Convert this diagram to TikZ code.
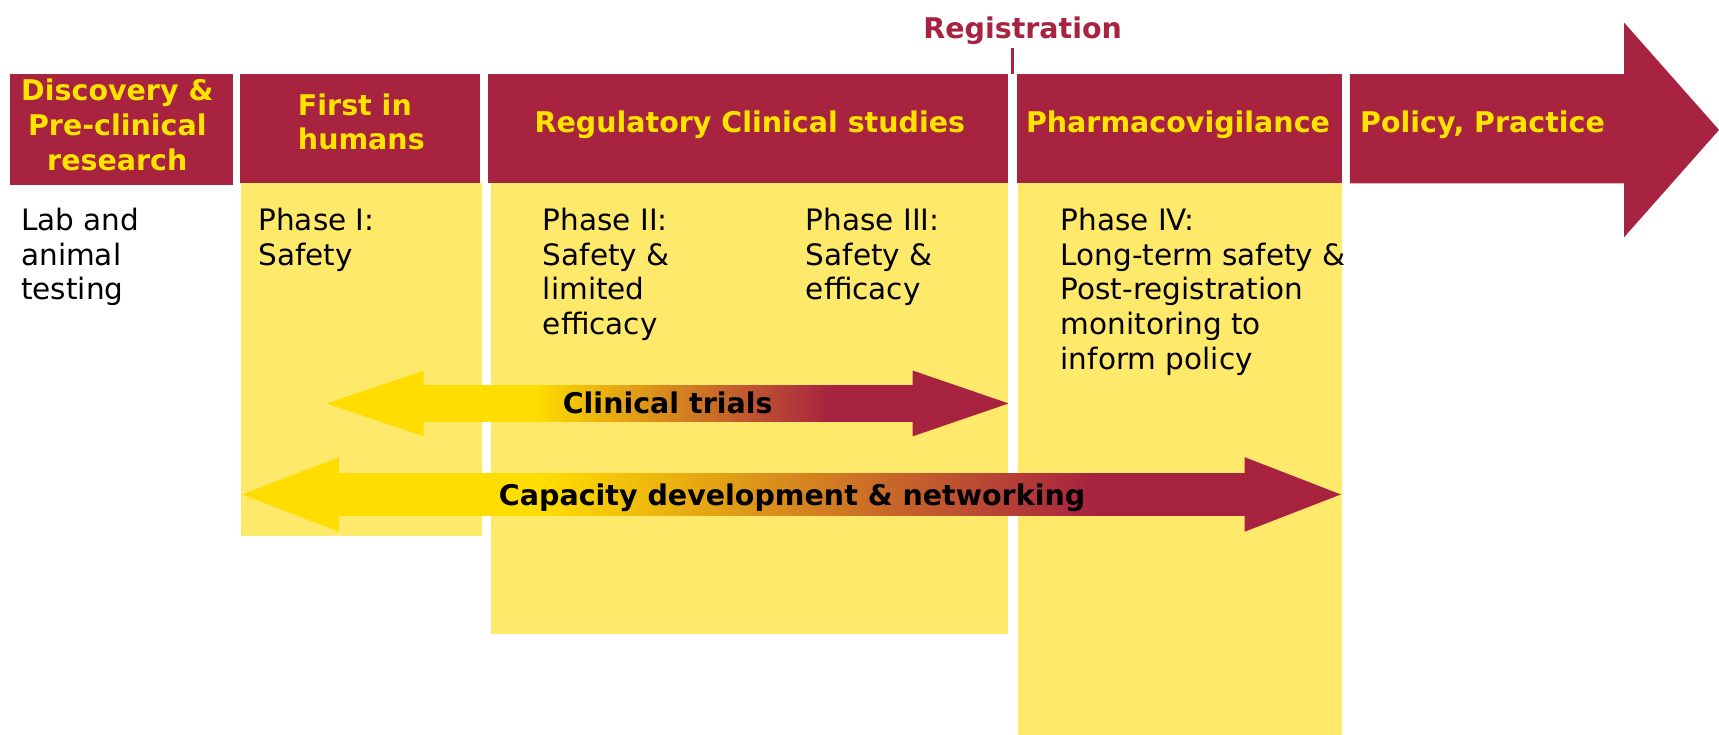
\documentclass[tikz,border=0pt]{standalone}
\usepackage{fontspec}
\setmainfont{DejaVu Sans}
\definecolor{band}{RGB}{168,35,64}
\definecolor{colyel}{RGB}{255,233,107}
\definecolor{hdrtxt}{RGB}{255,228,0}
\definecolor{arryel}{RGB}{255,221,0}
\pgfdeclarehorizontalshading{ctshade}{100bp}{color(0bp)=(arryel); color(40.2bp)=(arryel); color(61.8bp)=(band); color(100bp)=(band)}
\pgfdeclarehorizontalshading{cdshade}{100bp}{color(0bp)=(arryel); color(38.6bp)=(arryel); color(63.7bp)=(band); color(100bp)=(band)}
\begin{document}
\begin{tikzpicture}[x=1.0963pt,y=-1.0963pt,
  hdr/.style={text=hdrtxt, font=\fontsize{28.5}{34.5}\selectfont\bfseries, inner sep=0pt},
  body/.style={text=black, font=\fontsize{29.5}{34.8}\selectfont, align=left, inner sep=0pt, anchor=north west},
  lbl/.style={text=black, font=\fontsize{28.5}{34.5}\selectfont\bfseries, inner sep=0pt, anchor=base},
  colbox/.style={fill=colyel},
  bandbox/.style={fill=band}]
\useasboundingbox (0,0) rectangle (1568,670);
\fill[white] (0,0) rectangle (1568,670);
% yellow columns
\fill[colbox] (219.5,167.2) rectangle (440,488.6);
\fill[colbox] (448.2,167.2) rectangle (919.8,578.6);
\fill[colbox] (928.5,167.2) rectangle (1224.2,670);
% header band
\fill[bandbox] (9.5,67.5) rectangle (212.5,168.5);
\fill[bandbox] (219.2,67.5) rectangle (438.1,167.2);
\fill[bandbox] (445,67.5) rectangle (919.8,167.2);
\fill[bandbox] (928,67.5) rectangle (1224.2,167.2);
\fill[bandbox] (1231.3,67.5) -- (1481.5,67.5) -- (1481.5,20.7) -- (1568,118.5) -- (1481.5,216.3) -- (1481.5,167.2) -- (1231.3,167.2) -- cycle;
% registration
\node[text=band, font=\fontsize{28.5}{34.5}\selectfont\bfseries, inner sep=0pt, anchor=base] (regn) at (932.8,35) {Registration};
\coordinate (regtop) at (923.5,44);
\coordinate (regbot) at (923.5,67.5);
\draw[band, line width=3pt] (regtop) -- (regbot);
% header texts
\node[hdr, align=center, anchor=north, font=\fontsize{28.5}{35.3}\selectfont\bfseries] (disc) at (107,71.4) {Discovery \&\\Pre-clinical\\research};
\node[hdr, align=left, anchor=north west] (fih) at (271.6,85.1) {First in\\humans};
\node[hdr, anchor=base] (rcs) at (684,120.5) {Regulatory Clinical studies};
\node[hdr, anchor=base] (pv) at (1074.5,120.5) {Pharmacovigilance};
\node[hdr, anchor=base] (pol) at (1352.3,120.5) {Policy, Practice};
% body texts
\node[body] (lab) at (19.2,189.4) {Lab and\\animal\\testing};
\node[body] (p1) at (235.6,189.4) {Phase I:\\Safety};
\node[body] (p2) at (495,189.4) {Phase II:\\Safety \&\\limited\\efficacy};
\node[body] (p3) at (735,189.4) {Phase III:\\Safety \&\\efficacy};
\node[body] (p4) at (967.4,189.4) {Phase IV:\\Long-term safety \&\\Post-registration\\monitoring to\\inform policy};
% clinical trials arrow
\coordinate (ctL) at (298,368);
\coordinate (ctR) at (920,368);
\shade[shading=ctshade] (ctL) -- (386.5,338) -- (386.5,351.3) -- (832.5,351.3) -- (832.5,338) -- (ctR) -- (832.5,398) -- (832.5,384.7) -- (386.5,384.7) -- (386.5,398) -- cycle;
\node[lbl] (ctl) at (609,377.5) {Clinical trials};
% capacity arrow
\coordinate (cdL) at (221,451);
\coordinate (cdR) at (1223,451);
\shade[shading=cdshade] (cdL) -- (309,417) -- (309,431.5) -- (1135.3,431.5) -- (1135.3,417) -- (cdR) -- (1135.3,485) -- (1135.3,470.5) -- (309,470.5) -- (309,485) -- cycle;
\node[lbl] (cdl) at (722.5,461.5) {Capacity development \& networking};
\end{tikzpicture}
\end{document}
